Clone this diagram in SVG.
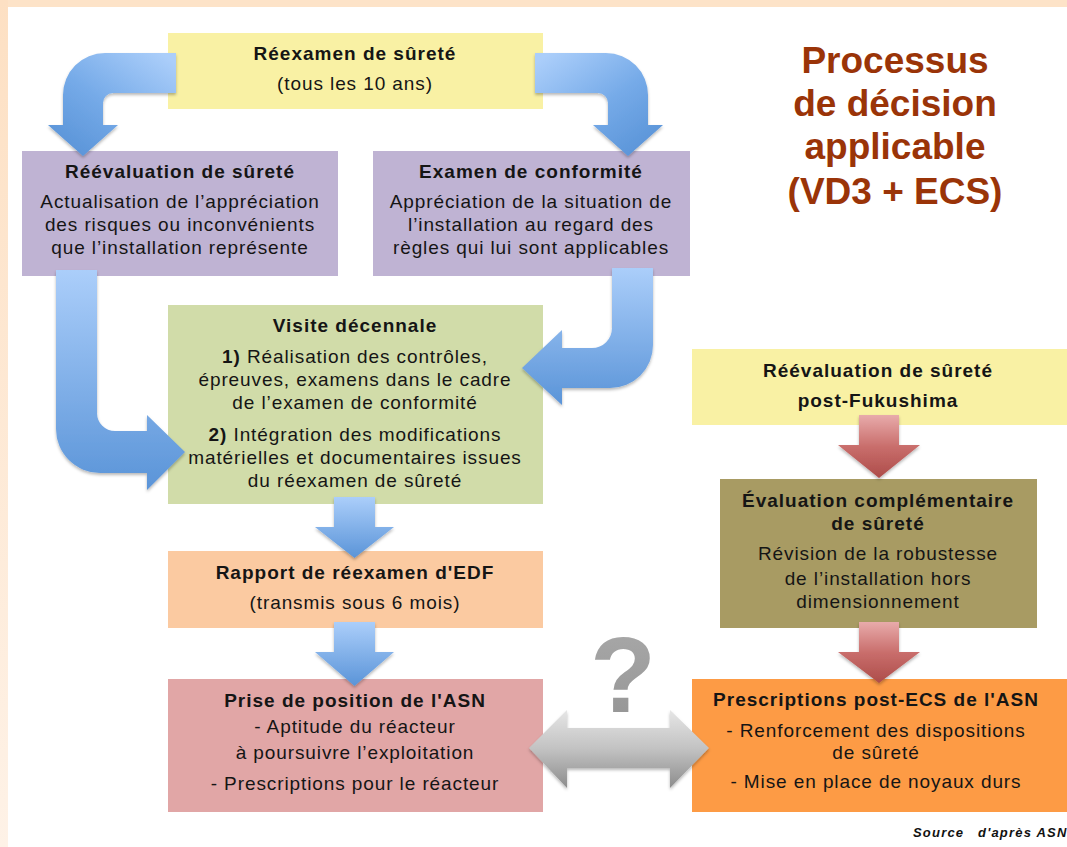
<svg xmlns="http://www.w3.org/2000/svg" width="1067" height="847" viewBox="0 0 1067 847">
  <style>
    .t { font-family: "Liberation Sans", Arial, sans-serif; font-size: 19px; fill: #151515; text-anchor: middle; letter-spacing: 0.9px; }
    .b { font-weight: bold; letter-spacing: 1px; }
    .title { font-family: "Liberation Sans", Arial, sans-serif; font-size: 37px; font-weight: bold; fill: #9a3408; text-anchor: middle; }
    .src { font-family: "Liberation Sans", Arial, sans-serif; font-size: 13px; font-style: italic; font-weight: bold; fill: #111; letter-spacing: 1.2px; }
    .arrow { filter: url(#shadow); }
  </style>
  <defs>
    <linearGradient id="frameLeft" x1="0" y1="0" x2="0" y2="1">
      <stop offset="0" stop-color="#fde0c3"/>
      <stop offset="1" stop-color="#fef2e7"/>
    </linearGradient>
    <linearGradient id="blueBend" x1="1" y1="0.1" x2="0.2" y2="1">
      <stop offset="0" stop-color="#abcefa"/>
      <stop offset="0.55" stop-color="#75aae8"/>
      <stop offset="1" stop-color="#5a94d8"/>
    </linearGradient>
    <linearGradient id="blueDown" x1="0" y1="0" x2="0" y2="1">
      <stop offset="0" stop-color="#abcefa"/>
      <stop offset="1" stop-color="#5a94d8"/>
    </linearGradient>
    <linearGradient id="redDown" x1="0" y1="0" x2="0" y2="1">
      <stop offset="0" stop-color="#e8abab"/>
      <stop offset="0.5" stop-color="#c96e6c"/>
      <stop offset="1" stop-color="#ad4c49"/>
    </linearGradient>
    <linearGradient id="grey" x1="0" y1="0" x2="0" y2="1">
      <stop offset="0" stop-color="#e6e6e6"/>
      <stop offset="0.5" stop-color="#c2c2c2"/>
      <stop offset="1" stop-color="#8c8c8c"/>
    </linearGradient>
    <linearGradient id="qmark" x1="0" y1="0" x2="0" y2="1">
      <stop offset="0" stop-color="#aaaaaa"/>
      <stop offset="1" stop-color="#939393"/>
    </linearGradient>
    <filter id="shadow" x="-20%" y="-20%" width="140%" height="140%">
      <feDropShadow dx="0" dy="2" stdDeviation="1.5" flood-color="#000" flood-opacity="0.28"/>
    </filter>
  </defs>

  <!-- page and frame -->
  <rect x="0" y="0" width="1067" height="847" fill="#ffffff"/>
  <rect x="0" y="0" width="1067" height="7" fill="#fde3c8"/>
  <rect x="0" y="0" width="8" height="847" fill="url(#frameLeft)"/>

  <!-- title -->
  <g id="title">
    <text class="title" x="895" y="73">Processus</text>
    <text class="title" x="895" y="116">de décision</text>
    <text class="title" x="895" y="159">applicable</text>
    <text class="title" x="895" y="204">(VD3 + ECS)</text>
  </g>

  <!-- boxes -->
  <g id="reexamen">
    <rect x="168" y="33" width="375" height="76" fill="#f9f1a4"/>
    <text class="t b" x="355" y="60">Réexamen de sûreté</text>
    <text class="t" x="355" y="90">(tous les 10 ans)</text>
  </g>

  <g id="reevaluation">
    <rect x="22" y="151" width="316" height="125" fill="#bfb3d3"/>
    <text class="t b" x="180" y="178">Réévaluation de sûreté</text>
    <text class="t" x="180" y="208">Actualisation de l’appréciation</text>
    <text class="t" x="180" y="231">des risques ou inconvénients</text>
    <text class="t" x="180" y="254">que l’installation représente</text>
  </g>

  <g id="conformite">
    <rect x="373" y="151" width="317" height="125" fill="#bfb3d3"/>
    <text class="t b" x="531" y="178">Examen de conformité</text>
    <text class="t" x="531" y="208">Appréciation de la situation de</text>
    <text class="t" x="531" y="231">l’installation au regard des</text>
    <text class="t" x="531" y="254">règles qui lui sont applicables</text>
  </g>

  <g id="visite">
    <rect x="168" y="305" width="375" height="199" fill="#d1dca9"/>
    <text class="t b" x="355" y="332">Visite décennale</text>
    <text class="t" x="355" y="363"><tspan font-weight="bold">1)</tspan> Réalisation des contrôles,</text>
    <text class="t" x="355" y="386">épreuves, examens dans le cadre</text>
    <text class="t" x="355" y="409">de l’examen de conformité</text>
    <text class="t" x="355" y="441"><tspan font-weight="bold">2)</tspan> Intégration des modifications</text>
    <text class="t" x="355" y="464">matérielles et documentaires issues</text>
    <text class="t" x="355" y="487">du réexamen de sûreté</text>
  </g>

  <g id="rapport">
    <rect x="168" y="551" width="375" height="77" fill="#fbcaa1"/>
    <text class="t b" x="355" y="579">Rapport de réexamen d'EDF</text>
    <text class="t" x="355" y="609">(transmis sous 6 mois)</text>
  </g>

  <g id="position-asn">
    <rect x="168" y="679" width="375" height="133" fill="#e1a6a6"/>
    <text class="t b" x="355" y="707">Prise de position de l'ASN</text>
    <text class="t" x="355" y="733">- Aptitude du réacteur</text>
    <text class="t" x="355" y="759">à poursuivre l’exploitation</text>
    <text class="t" x="355" y="790">- Prescriptions pour le réacteur</text>
  </g>

  <g id="fukushima">
    <rect x="692" y="349" width="375" height="76" fill="#f9f1a4"/>
    <text class="t b" x="878" y="377">Réévaluation de sûreté</text>
    <text class="t b" x="878" y="407">post-Fukushima</text>
  </g>

  <g id="ecs">
    <rect x="720" y="479" width="317" height="149" fill="#a89b63"/>
    <text class="t b" x="878" y="507">Évaluation complémentaire</text>
    <text class="t b" x="878" y="530">de sûreté</text>
    <text class="t" x="878" y="560">Révision de la robustesse</text>
    <text class="t" x="878" y="585">de l’installation hors</text>
    <text class="t" x="878" y="608">dimensionnement</text>
  </g>

  <g id="prescriptions-ecs">
    <rect x="692" y="679" width="375" height="133" fill="#fd9b45"/>
    <text class="t b" x="876" y="706">Prescriptions post-ECS de l'ASN</text>
    <text class="t" x="876" y="737">- Renforcement des dispositions</text>
    <text class="t" x="876" y="759">de sûreté</text>
    <text class="t" x="876" y="788">- Mise en place de noyaux durs</text>
  </g>

  <!-- connectors -->
  <g id="connectors">
    <!-- bent arrows from the safety review -->
    <path class="arrow" fill="url(#blueBend)" d="M176,53 L105,53 A42,42 0 0 0 63,95 L63,125 L48,125 L83,156 L118,125 L103,125 L103,103 A10,10 0 0 1 113,93 L176,93 Z"/>
    <g transform="translate(711,0) scale(-1,1)">
      <path class="arrow" fill="url(#blueBend)" d="M176,53 L105,53 A42,42 0 0 0 63,95 L63,125 L48,125 L83,156 L118,125 L103,125 L103,103 A10,10 0 0 1 113,93 L176,93 Z"/>
    </g>
    <!-- into the ten-year inspection -->
    <path class="arrow" fill="url(#blueDown)" d="M56,270 L97,270 L97,413 A18,18 0 0 0 115,431 L147,431 L147,415 L185,452 L147,490 L147,473 L100,473 A44,44 0 0 1 56,429 Z"/>
    <path class="arrow" fill="url(#blueDown)" d="M612,268 L653,268 L653,345 A43,43 0 0 1 610,388 L562,388 L562,405 L522,368 L562,330 L562,348 L592,348 A20,20 0 0 0 612,328 Z"/>
    <!-- straight blue arrows -->
    <path class="arrow" fill="url(#blueDown)" d="M334,497 L375,497 L375,527 L394,527 L354.5,558 L315,527 L334,527 Z"/>
    <path class="arrow" fill="url(#blueDown)" d="M334,622 L375,622 L375,652 L394,652 L354.5,686 L315,652 L334,652 Z"/>
    <!-- red arrows -->
    <path class="arrow" fill="url(#redDown)" d="M859,415 L899,415 L899,445 L920,445 L879,478 L838,445 L859,445 Z"/>
    <path class="arrow" fill="url(#redDown)" d="M859,622 L899,622 L899,652 L920,652 L879,683 L838,652 L859,652 Z"/>
    <!-- double arrow between the two decisions -->
    <path class="arrow" fill="url(#grey)" d="M529,748 L567,710 L567,728 L670,728 L670,710 L709,748 L670,788 L670,768 L567,768 L567,788 Z"/>
  </g>

  <g id="question">
    <text x="623" y="712" font-family="Liberation Sans, Arial, sans-serif" font-size="108" font-weight="bold" fill="url(#qmark)" text-anchor="middle">?</text>
  </g>

  <g id="source">
    <text class="src" x="913" y="837">Source</text>
    <text class="src" x="978" y="837">d'après ASN</text>
  </g>
</svg>
